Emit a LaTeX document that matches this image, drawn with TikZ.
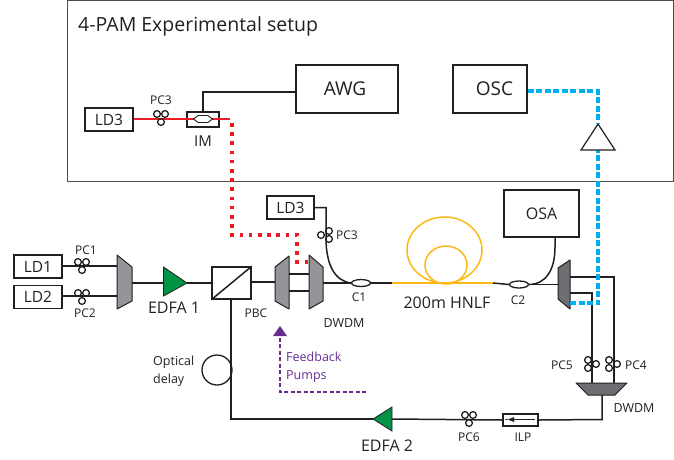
\documentclass[tikz,border=0pt]{standalone}
\usepackage{fontspec}
\setmainfont{Open Sans}
\usepackage{xcolor}
\usetikzlibrary{calc}
\usetikzlibrary{shapes.geometric}

\definecolor{inkline}{HTML}{231F20}
\definecolor{muxgray}{HTML}{939598}
\definecolor{muxdark}{HTML}{6D6E71}
\definecolor{ampgreen}{HTML}{009444}
\definecolor{fiberyellow}{HTML}{FCB913}
\definecolor{sigred}{HTML}{ED1C24}
\definecolor{sigblue}{HTML}{00AEEF}
\definecolor{fbpurple}{HTML}{662D91}

\tikzset{
  fiber/.style={draw=inkline,line width=1.5pt},
  devbox/.style={draw=inkline,line width=1.5pt,fill=white,inner sep=0pt,text=inkline},
  mux/.style={draw=inkline,line width=1pt,fill=muxgray,line join=round},
  muxd/.style={draw=inkline,line width=1pt,fill=muxdark,line join=round},
  amp/.style={draw=inkline,line width=0.8pt,fill=ampgreen},
  coupler/.style={ellipse,draw=inkline,line width=1.3pt,fill=white,minimum width=19pt,minimum height=7pt,inner sep=0pt},
  lbl/.style={text=inkline,inner sep=0pt,font=\fontsize{12.5}{15}\selectfont},
  pclbl/.style={text=inkline,inner sep=0pt,font=\fontsize{12}{14}\selectfont},
  biglbl/.style={text=inkline,inner sep=0pt,font=\fontsize{16}{20}\selectfont},
  boxlbl/.style={font=\fontsize{15.5}{20}\selectfont},
  hugelbl/.style={text=inkline,inner sep=0pt,font=\fontsize{19}{20}\selectfont},
  reddots/.style={draw=sigred,line width=3.3pt,dash pattern=on 3.5pt off 5.7pt},
  bluedash/.style={draw=sigblue,line width=3.4pt,dash pattern=on 6pt off 2.5pt},
  pcloops/.pic={
    \draw[inkline,line width=1.3pt,fill=none] (-4,-2) circle (3.4pt);
    \draw[inkline,line width=1.3pt,fill=none] (4,-2) circle (3.4pt);
    \draw[inkline,line width=1.3pt,fill=none] (0,6) circle (3.4pt);
  }
}

\begin{document}
\begin{tikzpicture}[x=1pt,y=-1pt]
\useasboundingbox (0,0) rectangle (674,459);

% Experimental setup frame
\draw[inkline!80,line width=1pt] (67,0.5) rectangle (673,181.5);
\node[anchor=base west,inner sep=0pt,text=inkline,font=\fontsize{19.5}{24}\selectfont] (title) at (78,31) {4-PAM Experimental setup};

% Upper instruments
\node[devbox,minimum width=102pt,minimum height=48pt] (awg) at (347,89) {};
\node[devbox,minimum width=74pt,minimum height=48pt] (osc) at (490,89) {};
\node[hugelbl] (awglbl) at (345,89) {AWG};
\node[hugelbl] (osclbl) at (494.5,89) {OSC};
\node[devbox,boxlbl,minimum width=48pt,minimum height=23pt] (ldtop) at (109,119.5) {LD3};
\node[devbox,minimum width=32pt,minimum height=15pt] (im) at (203,119.5) {};
\node[pclbl] (pctoplbl) at (161,100) {PC3};
\node[biglbl,font=\fontsize{15}{18}\selectfont] (imlbl) at (203,141) {IM};

% Modulator drive and red signal
\coordinate (imout) at (230,119);
\draw[fiber] (im.north) -- (203,92) -- (awg.west |- 0,92);
\draw[draw=sigred,line width=1.3pt] (ldtop.east |- 0,119) -- (imout);
\node[draw=inkline,line width=0.9pt,fill=white,regular polygon,regular polygon sides=6,shape border rotate=0,minimum size=8pt,inner sep=0pt,xscale=2.4] (imcore) at (203,119) {};
\pic at (161,116) {pcloops};

% Dotted pump route
\coordinate (redstart) at (232,123);
\coordinate (redcornerA) at (232,235);
\coordinate (redcornerB) at (297,235);
\coordinate (redend) at (308,262);
\draw[reddots] (redstart) -- (redcornerA) -- (redcornerB) -- (297,262) -- (redend);

% Sources
\node[devbox,boxlbl,minimum width=48pt,minimum height=23pt] (ldone) at (38,266.5) {LD1};
\node[devbox,boxlbl,minimum width=48pt,minimum height=23pt] (ldtwo) at (38,297) {LD2};
\node[devbox,boxlbl,minimum width=47pt,minimum height=23pt] (ldlow) at (290.5,207.5) {LD3};
\node[pclbl] (pconelbl) at (86,250) {PC1};
\node[pclbl] (pctwolbl) at (85,313) {PC2};

% First multiplexer
\draw[mux] (117,255) -- (132,267) -- (132,301) -- (117,309) -- cycle;
\coordinate (muxa) at (132,283);
\draw[fiber] (ldone.east |- 0,266) -- (117,266);
\draw[fiber] (ldtwo.east |- 0,296) -- (117,296);
\pic at (82,264) {pcloops};
\pic at (82,295) {pcloops};

% EDFA 1 and PBC
\draw[amp] (163.5,267) -- (187,283) -- (163.5,296) -- cycle;
\coordinate (edfaonein) at (163.5,283);
\coordinate (edfaoneout) at (187,283);
\node[devbox,minimum width=39pt,minimum height=32pt] (pbc) at (231.5,283) {};
\draw[fiber] (pbc.south west) -- (pbc.north east);
\draw[fiber] (muxa) -- (edfaonein);
\draw[fiber] (edfaoneout) -- (pbc.west);
\node[biglbl] (edfaonelbl) at (174,308) {EDFA 1};
\node[pclbl] (pbclbl) at (256,313) {PBC};

% WDM pair
\coordinate (wdmin) at (275,282);
\coordinate (wdmout) at (323,283);
\draw[fiber] (289,274) -- (309,274);
\draw[fiber] (289,291) -- (309,291);
\draw[mux] (275,267) -- (289,256) -- (289,309) -- (275,301) -- cycle;
\draw[mux] (309,255) -- (323,267) -- (323,301) -- (309,309) -- cycle;
\draw[fiber] (pbc.east |- wdmin) -- (wdmin);
\node[lbl] (wdmlbl) at (344,323) {DWDM};

% Couplers and HNLF
\node[coupler] (cone) at (361,283) {};
\node[coupler] (ctwo) at (519,284.5) {};
\coordinate (hnlfa) at (392,283);
\coordinate (hnlfb) at (493,283);
\draw[fiber] (wdmout) -- (cone.west);
\draw[fiber] (cone.east) -- (hnlfa);
\draw[fiber] (hnlfb) -- (ctwo.west);
\draw[fiber,fill=none] (ldlow.east) -- (326,207.5) -- (326,238) .. controls (326,265) and (335,281) .. (cone.west);
\pic[rotate=-90] at (327,235) {pcloops};
\node[pclbl] (pclowlbl) at (347,235) {PC3};
\node[pclbl] (conelbl) at (359,297) {C1};
\node[pclbl] (ctwolbl) at (518,300) {C2};

% Yellow coil
\draw[fiberyellow,line width=1.7pt] (hnlfa) -- (hnlfb);
\draw[fiberyellow,line width=1.5pt] (444.5,250) ellipse (37.5pt and 33pt);
\draw[fiberyellow,line width=1.5pt] (446,265) ellipse (21pt and 19pt);
\node[biglbl] (hnlflbl) at (447,303) {200m HNLF};

% OSA and output demultiplexer
\node[devbox,boxlbl,font=\fontsize{16}{20}\selectfont,minimum width=75pt,minimum height=47pt] (osa) at (541.5,213.5) {OSA};
\coordinate (osaout) at (555,237);
\draw[fiber] (osaout) -- (555,247) .. controls (555,270) and (546,284) .. (ctwo.east);
\draw[fiber] (ctwo.east) -- (558,284.5);
\draw[muxd] (558,268) -- (570,260) -- (570,309) -- (558,299) -- cycle;

% Branches to lower DWDM
\draw[fiber] (570,277) -- (614,277) -- (614,383);
\draw[fiber] (570,293) -- (592,293) -- (592,383);
\draw[muxd] (576,383) -- (627,383) -- (615,395) -- (588,395) -- cycle;
\pic[rotate=90] at (590,364) {pcloops};
\pic[rotate=90] at (611,364) {pcloops};
\node[pclbl] (pcfivelbl) at (562,365) {PC5};
\node[pclbl] (pcfourlbl) at (636,365) {PC4};
\node[lbl] (ddwdmlbl) at (634,408) {DWDM};

% Receiver amplifier and blue signal
\draw[bluedash] (570,303) -- (598,303) -- (598,150);
\draw[inkline,line width=1.2pt,fill=white] (598,124) -- (615,150) -- (581,150) -- cycle;
\coordinate (rxtop) at (598,124);
\draw[bluedash] (osc.east |- 0,91) -- (598,91) -- (rxtop);

% Return path
\node[draw=inkline,line width=1.3pt,fill=white,minimum width=35pt,minimum height=12pt,inner sep=0pt] (ilp) at (520.5,420) {};
\coordinate (ilpa) at (535,419.5);
\coordinate (ilpb) at (505,419.5);
\draw[inkline,line width=1.3pt] (ilpa) -- (512,419.5);
\fill[inkline] (508,419.5) -- (514,417) -- (514,422) -- cycle;
\draw[ampgreen!70!black,line width=1.1pt] (508,419.5) -- (ilpb);
\draw[amp] (392,407) -- (392,431) -- (373,419) -- cycle;
\coordinate (edfatwoin) at (392,419);
\coordinate (edfatwoout) at (373,419);
\draw[fiber] (602,395) -- (602,419.5) -- (ilp.east);
\draw[fiber] (ilp.west) -- (edfatwoin);
\draw[fiber] (edfatwoout) -- (231,419) -- (231,299);
\pic at (469,417) {pcloops};
\node[pclbl] (pcsixlbl) at (469,437) {PC6};
\node[pclbl] (ilplbl) at (523,437) {ILP};
\node[biglbl] (edfatwolbl) at (387,446) {EDFA 2};

% Delay loop
\node[circle,draw=inkline,line width=1.3pt,minimum size=30pt,inner sep=0pt] (delay) at (217,370) {};
\node[lbl,anchor=base west] (delaya) at (153,365) {Optical};
\node[lbl,anchor=base west] (delayb) at (153,383) {delay};

% Feedback
\coordinate (fbtip) at (280,326);
\draw[fbpurple,line width=1.2pt,dash pattern=on 4pt off 2.5pt] (366,392) -- (280,392) -- (280,336);
\fill[fbpurple] (fbtip) -- (287,336) -- (273,336) -- cycle;
\node[lbl,text=fbpurple,anchor=base west] (fba) at (286,361) {Feedback};
\node[lbl,text=fbpurple,anchor=base west] (fbb) at (286,379) {Pumps};
\end{tikzpicture}
\end{document}
